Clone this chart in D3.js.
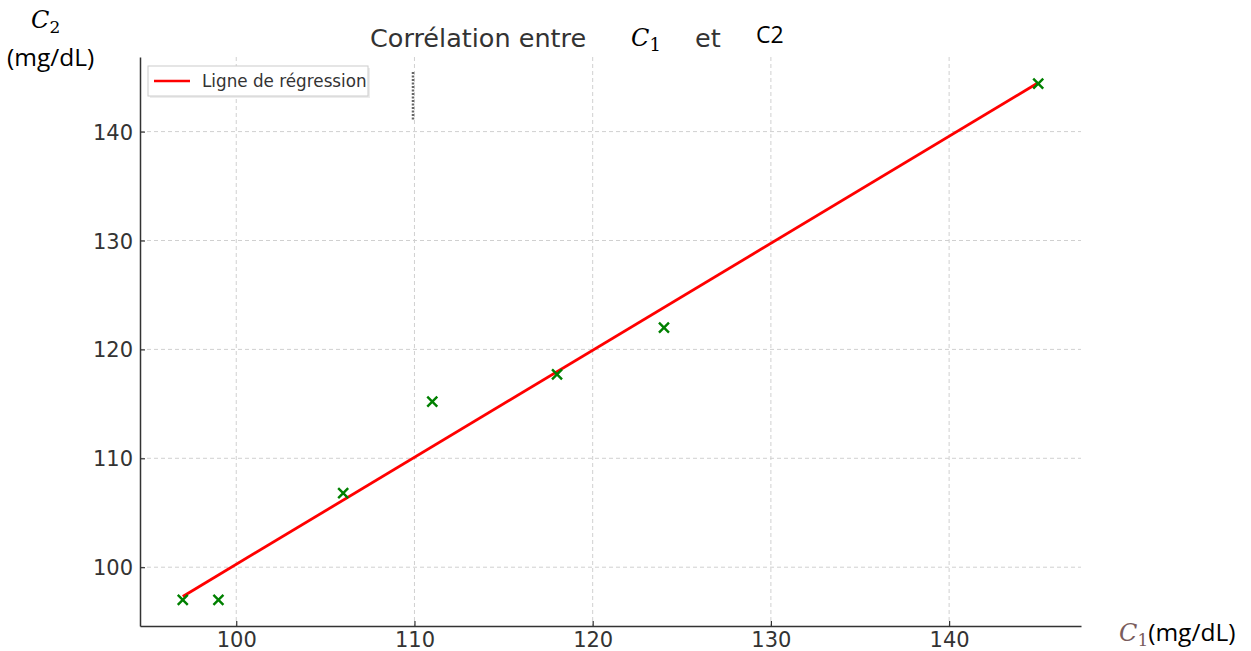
<!DOCTYPE html>
<html>
<head>
<meta charset="utf-8">
<script src="https://cdn.jsdelivr.net/npm/d3@7"></script>
<style>
  body { margin: 0; background: #fff; }
  svg { display: block; }
  .grid line { stroke: #d0d0d0; stroke-dasharray: 4,3; stroke-width: 1; }
</style>
</head>
<body>
<svg id="chart" width="1251" height="651"></svg>
<script>
// Glycémie mesurée par deux méthodes
const c1Values = [97, 99, 106, 111, 118, 124, 145];
const c2Values = [97, 97, 106.8, 115.2, 117.7, 122, 144.4];
const xTicks = [100, 110, 120, 130, 140];
const yTicks = [100, 110, 120, 130, 140];

const svg = d3.select('#chart');
const plot = { left: 140, right: 1081, top: 57, bottom: 626 };

const x = d3.scaleLinear().domain([94.6, 147.4]).range([plot.left, plot.right]);
const y = d3.scaleLinear().domain([94.6, 146.85]).range([plot.bottom, plot.top]);

// grid
svg.append('g').attr('class', 'grid')
    .selectAll('line.v').data(xTicks).enter().append('line')
    .attr('x1', d => x(d)).attr('x2', d => x(d))
    .attr('y1', plot.top).attr('y2', plot.bottom);
svg.append('g').attr('class', 'grid')
    .selectAll('line.h').data(yTicks).enter().append('line')
    .attr('x1', plot.left).attr('x2', plot.right)
    .attr('y1', d => y(d)).attr('y2', d => y(d));

// axes (ticks point inward, like the original)
const xAxis = svg.append('g')
    .attr('transform', `translate(0,${plot.bottom})`)
    .call(d3.axisBottom(x).tickValues(xTicks).tickSize(-5).tickPadding(6).tickSizeOuter(0));
const yAxis = svg.append('g')
    .attr('transform', `translate(${plot.left},0)`)
    .call(d3.axisLeft(y).tickValues(yTicks).tickSize(-5).tickPadding(7).tickSizeOuter(0));
[xAxis, yAxis].forEach(a => {
    a.attr('font-family', 'DejaVu Sans, sans-serif').attr('font-size', 21);
    a.select('.domain').attr('stroke', '#333').attr('stroke-width', 1.5);
    a.selectAll('.tick line').attr('stroke', '#333').attr('stroke-width', 1.2);
    a.selectAll('.tick text').attr('fill', '#333');
});
xAxis.selectAll('.tick text').attr('dy', '0.71em');
yAxis.selectAll('.tick text').attr('dy', '0.36em');

// least-squares regression
const mx = d3.mean(c1Values), my = d3.mean(c2Values);
let sxy = 0, sxx = 0;
c1Values.forEach((v, i) => { sxy += (v - mx) * (c2Values[i] - my); sxx += (v - mx) ** 2; });
const slope = sxy / sxx, intercept = my - slope * mx;
const xExt = d3.extent(c1Values);

svg.append('line')
    .attr('x1', x(xExt[0])).attr('y1', y(slope * xExt[0] + intercept))
    .attr('x2', x(xExt[1])).attr('y2', y(slope * xExt[1] + intercept))
    .attr('stroke', '#ff0000').attr('stroke-width', 2.8);

// points as crosses
const pts = c1Values.map((v, i) => [v, c2Values[i]]);
svg.append('g').selectAll('path').data(pts).enter().append('path')
    .attr('transform', d => `translate(${x(d[0])},${y(d[1])})`)
    .attr('d', 'M-5,-5L5,5M-5,5L5,-5')
    .attr('stroke', '#008000').attr('stroke-width', 2.4).attr('fill', 'none');

// legend
const lg = svg.append('g');
lg.append('rect').attr('x', 150).attr('y', 68).attr('width', 220).attr('height', 30)
    .attr('fill', '#ececec');
lg.append('rect').attr('x', 148).attr('y', 66).attr('width', 220).attr('height', 30)
    .attr('fill', '#fff').attr('stroke', '#ccc').attr('stroke-width', 1);
lg.append('line').attr('x1', 154).attr('x2', 190).attr('y1', 81).attr('y2', 81)
    .attr('stroke', '#ff0000').attr('stroke-width', 2.5);
lg.append('text').attr('x', 202).attr('y', 87)
    .attr('font-family', 'DejaVu Sans, sans-serif').attr('font-size', 16.8).attr('fill', '#333')
    .text('Ligne de régression');

// stray dotted marker
svg.append('line').attr('x1', 413).attr('x2', 413).attr('y1', 72).attr('y2', 120)
    .attr('stroke', '#666').attr('stroke-width', 2.5).attr('stroke-dasharray', '2,1.5');

// title
svg.append('text').attr('x', 370).attr('y', 47)
    .attr('font-family', 'DejaVu Sans, sans-serif').attr('font-size', 25.5).attr('fill', '#333')
    .text('Corrélation entre');
svg.append('text').attr('x', 631).attr('y', 46)
    .attr('font-family', 'DejaVu Serif, serif').attr('font-style', 'italic')
    .attr('font-size', 24).attr('fill', '#000')
    .text('C').append('tspan').attr('font-style', 'normal').attr('font-size', 18)
    .attr('dy', 5).text('1');
svg.append('text').attr('x', 695).attr('y', 47)
    .attr('font-family', 'DejaVu Sans, sans-serif').attr('font-size', 25.5).attr('fill', '#333')
    .text('et');
svg.append('text').attr('x', 756).attr('y', 43)
    .attr('font-family', 'Open Sans, sans-serif').attr('font-size', 23).attr('fill', '#000')
    .text('C2');

// y label
svg.append('text').attr('x', 31).attr('y', 28)
    .attr('font-family', 'DejaVu Serif, serif').attr('font-style', 'italic')
    .attr('font-size', 24).attr('fill', '#000')
    .text('C').append('tspan').attr('font-style', 'normal').attr('font-size', 17)
    .attr('dy', 5).text('2');
svg.append('text').attr('x', 7).attr('y', 66)
    .attr('font-family', 'Open Sans, sans-serif').attr('font-size', 24.5).attr('fill', '#000')
    .text('(mg/dL)');

// x label
const xl = svg.append('text').attr('x', 1119).attr('y', 641)
    .attr('font-family', 'Open Sans, sans-serif').attr('font-size', 24.5).attr('fill', '#000');
xl.append('tspan').attr('font-family', 'DejaVu Serif, serif').attr('font-style', 'italic')
    .attr('font-size', 24).attr('fill', '#7a5c5c').text('C');
xl.append('tspan').attr('font-family', 'DejaVu Serif, serif').attr('font-size', 17)
    .attr('fill', '#7a5c5c').attr('dy', 5).text('1');
xl.append('tspan').attr('dy', -5).text('(mg/dL)');
</script>
</body>
</html>
